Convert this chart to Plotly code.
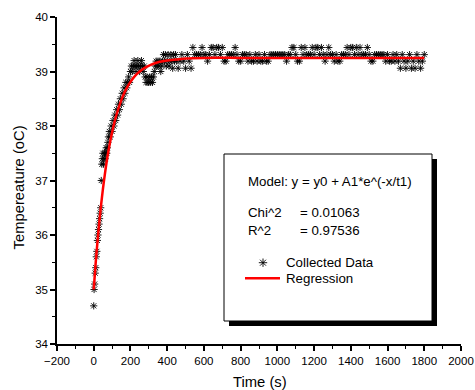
import plotly.graph_objects as go

# ---------------- data ----------------
rise_time_s = [0, 2, 5, 8, 11, 14, 17, 20, 23, 26, 29, 32, 35, 38, 41,
               44, 47, 50, 53, 56, 59, 62, 65, 68, 71, 74, 77,
               80, 85, 90, 95, 100, 105, 110, 115, 120, 125, 130,
               135, 140, 145, 150, 155, 160, 165, 170, 175, 180, 185, 190, 195, 200,
               205, 210, 215, 220, 225, 230, 235, 240, 245, 250, 255, 260, 265, 270, 275,
               280, 285, 290, 295, 300, 305, 310, 315, 320, 325, 330,
               335, 340, 345, 350, 355, 360, 365, 370, 375, 380, 385, 390, 395, 400,
               405, 410, 415, 420, 425, 430, 435, 440, 445]
rise_temp_c = [34.7, 35.0, 35.1, 35.3, 35.4, 35.6, 35.7, 35.9, 36.0, 36.1, 36.2, 36.3, 36.4, 36.5, 37.0,
               37.3, 37.4, 37.5, 37.3, 37.4, 37.5, 37.4, 37.5, 37.6, 37.5, 37.6, 37.7,
               37.8, 37.9, 37.8, 38.0, 37.9, 38.1, 38.0, 38.2, 38.1, 38.3, 38.2,
               38.4, 38.3, 38.5, 38.4, 38.6, 38.5, 38.7, 38.6, 38.8, 38.7, 38.8, 38.9, 38.8, 39.0,
               39.1, 39.0, 39.1, 39.2, 39.1, 39.0, 39.1, 39.2, 39.1, 39.0, 39.1, 39.2, 39.1, 39.0, 39.1,
               38.9, 38.8, 38.9, 38.8, 38.8, 38.9, 38.8, 38.9, 38.8, 38.9, 39.0,
               39.1, 39.19, 39.1, 39.19, 39.1, 39.19, 39.0, 39.1, 39.19, 39.31, 39.19, 39.31, 39.1, 39.19,
               39.31, 39.1, 39.19, 39.31, 39.19, 39.06, 39.31, 39.19, 39.31]

plateau_time_s = [450, 460, 470, 480, 490, 500, 510, 520, 530, 540,
                  550, 560, 570, 580, 590, 600, 610, 620, 630, 640,
                  650, 660, 670, 680, 690, 700, 710, 720, 730, 740,
                  750, 760, 770, 780, 790, 800, 810, 820, 830, 840,
                  850, 860, 870, 880, 890, 900, 910, 920, 930, 940,
                  950, 960, 970, 980, 990, 1000, 1010, 1020, 1030, 1040,
                  1050, 1060, 1070, 1080, 1090, 1100, 1110, 1120, 1130, 1140,
                  1150, 1160, 1170, 1180, 1190, 1200, 1210, 1220, 1230, 1240,
                  1250, 1260, 1270, 1280, 1290, 1300, 1310, 1320, 1330, 1340,
                  1350, 1360, 1370, 1380, 1390, 1400, 1410, 1420, 1430, 1440,
                  1450, 1460, 1470, 1480, 1490, 1500, 1510, 1520, 1530, 1540,
                  1550, 1560, 1570, 1580, 1590, 1600, 1610, 1620, 1630, 1640,
                  1650, 1660, 1670, 1680, 1690, 1700, 1710, 1720, 1730, 1740,
                  1750, 1760, 1770, 1780, 1790, 1800]
plateau_temp_c = [39.19, 39.06, 39.19, 39.31, 39.19, 39.06, 39.31, 39.19, 39.06, 39.44,
                  39.31, 39.31, 39.31, 39.31, 39.44, 39.31, 39.31, 39.19, 39.31, 39.44,
                  39.44, 39.31, 39.44, 39.44, 39.31, 39.44, 39.19, 39.19, 39.31, 39.31,
                  39.31, 39.31, 39.44, 39.31, 39.19, 39.19, 39.31, 39.31, 39.31, 39.19,
                  39.31, 39.19, 39.19, 39.31, 39.19, 39.31, 39.19, 39.19, 39.31, 39.19,
                  39.19, 39.31, 39.31, 39.31, 39.31, 39.31, 39.31, 39.31, 39.31, 39.31,
                  39.19, 39.31, 39.31, 39.44, 39.44, 39.31, 39.19, 39.19, 39.44, 39.31,
                  39.44, 39.31, 39.31, 39.31, 39.44, 39.31, 39.44, 39.44, 39.31, 39.44,
                  39.31, 39.19, 39.31, 39.44, 39.31, 39.31, 39.19, 39.31, 39.19, 39.19,
                  39.31, 39.31, 39.31, 39.44, 39.31, 39.44, 39.44, 39.31, 39.44, 39.31,
                  39.44, 39.31, 39.31, 39.31, 39.44, 39.31, 39.19, 39.19, 39.31, 39.31,
                  39.31, 39.31, 39.31, 39.31, 39.19, 39.31, 39.19, 39.19, 39.31, 39.19,
                  39.31, 39.19, 39.06, 39.31, 39.19, 39.06, 39.19, 39.31, 39.06, 39.19,
                  39.06, 39.31, 39.19, 39.06, 39.19, 39.31]

regression_time_s = [0, 10, 20, 30, 40, 50, 60, 75, 90, 105, 120, 140, 160, 180, 200,
                     225, 250, 280, 310, 350, 400, 450, 500, 600, 800, 1000, 1200,
                     1400, 1600, 1800]
regression_temp_c = [35.00, 35.46, 35.86, 36.23, 36.55, 36.84, 37.10, 37.44, 37.72, 37.96,
                     38.16, 38.38, 38.56, 38.70, 38.81, 38.92, 39.00, 39.07, 39.12, 39.17,
                     39.20, 39.22, 39.24, 39.25, 39.25, 39.25, 39.25, 39.25, 39.25, 39.25]

x_ticks = [-200, 0, 200, 400, 600, 800, 1000, 1200, 1400, 1600, 1800, 2000]
y_ticks = [34, 35, 36, 37, 38, 39, 40]

x_title = "Time (s)"
y_title = "Tempereature (oC)"
model_text = "Model: y = y0 + A1*e^(-x/t1)"
stat_names = ["Chi^2", "R^2"]
stat_values = ["= 0.01063", "= 0.97536"]
legend_names = ["Collected Data", "Regression"]

# ---------------- layout constants (pixels) ----------------
W, H = 475, 390
L, R, T, B = 57, 14, 17, 46
PW, PH = W - L - R, H - T - B
FONT = "Liberation Sans, Arial, sans-serif"


def px(x):
    return (x - L) / PW


def py(y):
    return 1 - (y - T) / PH


fig = go.Figure()

fig.add_trace(go.Scatter(
    x=rise_time_s + plateau_time_s, y=rise_temp_c + plateau_temp_c,
    mode="markers", name=legend_names[0], showlegend=False,
    marker=dict(symbol="asterisk-open", size=6, color="black",
                line=dict(color="black", width=0.9)),
))
fig.add_trace(go.Scatter(
    x=regression_time_s, y=regression_temp_c, mode="lines",
    name=legend_names[1], showlegend=False,
    line=dict(color="#ff0000", width=2.5, shape="spline", smoothing=0.8),
))

# legend marker sample (pixel overlay axes)
fig.add_trace(go.Scatter(
    x=[263], y=[262.7], xaxis="x2", yaxis="y2", mode="markers",
    showlegend=False, hoverinfo="skip", cliponaxis=False,
    marker=dict(symbol="asterisk-open", size=7, color="black",
                line=dict(color="black", width=0.9)),
))

axis_common = dict(showline=True, linecolor="black", linewidth=1.5,
                   ticks="outside", ticklen=5, tickwidth=1.5, tickcolor="black",
                   showgrid=False, zeroline=False, automargin=False,
                   tickfont=dict(family=FONT, size=11.5, color="black"))

fig.update_layout(
    width=W, height=H,
    margin=dict(l=L, r=R, t=T, b=B),
    paper_bgcolor="white", plot_bgcolor="white",
    font=dict(family=FONT, color="black"),
    xaxis=dict(range=[-200, 2000], tickvals=x_ticks,
               minor=dict(dtick=100, tick0=-200, ticks="outside", ticklen=3,
                          tickwidth=1, tickcolor="black"),
               **axis_common),
    yaxis=dict(range=[34, 40], tickvals=y_ticks,
               minor=dict(dtick=0.5, tick0=34, ticks="outside", ticklen=3,
                          tickwidth=1, tickcolor="black"),
               **axis_common),
    xaxis2=dict(overlaying="x", range=[L, W - R], visible=False),
    yaxis2=dict(overlaying="y", range=[H - B, T], visible=False),
    showlegend=False,
)

# axis titles
fig.add_annotation(xref="paper", yref="paper", x=px(259.5), y=py(382), text=x_title,
                   showarrow=False, xanchor="center", yanchor="middle",
                   font=dict(family=FONT, size=14.8, color="black"))
fig.add_annotation(xref="paper", yref="paper", x=px(18.5), y=py(188), text=y_title,
                   showarrow=False, textangle=-90, xanchor="center", yanchor="middle",
                   font=dict(family=FONT, size=14.8, color="black"))

# info box with shadow
fig.add_shape(type="rect", xref="paper", yref="paper", x0=px(229), x1=px(437),
              y0=py(159), y1=py(326), fillcolor="black", line=dict(width=0), layer="below")
fig.add_shape(type="rect", xref="paper", yref="paper", x0=px(224), x1=px(432),
              y0=py(154), y1=py(321), fillcolor="white",
              line=dict(color="black", width=1), layer="below")
fig.add_shape(type="line", xref="paper", yref="paper", x0=px(245), x1=px(280),
              y0=py(278.3), y1=py(278.3), line=dict(color="#ff0000", width=2.5))


def note(x, y, text):
    fig.add_annotation(xref="paper", yref="paper", x=px(x), y=py(y), text=text,
                       showarrow=False, xanchor="left", yanchor="middle",
                       font=dict(family=FONT, size=13.3, color="black"))


note(246, 181.7, model_text)
note(246, 212.7, stat_names[0])
note(298, 212.7, stat_values[0])
note(246, 230.0, stat_names[1])
note(298, 230.0, stat_values[1])
note(284, 262.7, legend_names[0])
note(284, 278.3, legend_names[1])

fig.write_html("out.html")
